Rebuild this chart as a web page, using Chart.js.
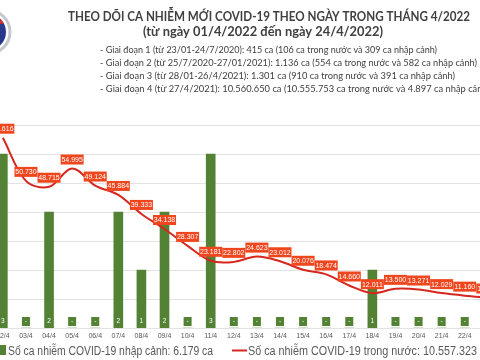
<!DOCTYPE html>
<html><head><meta charset="utf-8">
<script src="https://cdn.jsdelivr.net/npm/chart.js@4/dist/chart.umd.min.js"></script>
<style>
html,body{margin:0;padding:0;background:#fff;overflow:hidden;width:480px;height:360px}
#wrap{position:absolute;left:-20px;top:0;width:540px;height:360px}
</style></head><body>
<div id="wrap"><canvas id="c" width="540" height="360"></canvas></div>
<script>
// ---- data ----
const categories = ['02/4','03/4','04/4','05/4','06/4','07/4','08/4','09/4','10/4','11/4','12/4','13/4','14/4','15/4','16/4','17/4','18/4','19/4','20/4','21/4','22/4','23/4'];
const domesticCases = [65616,50730,48715,54995,49124,45884,39333,34138,28307,23181,22802,24623,23012,20076,18474,14660,12011,13500,13271,12029,11160,10500];
const importedCases = [3,0,2,0,0,2,1,2,0,3,0,0,0,0,0,0,1,0,0,0,0,0];
const lineAxis = {min:0, max:70000, step:10000};
const barAxis = {min:0, max:3.5, step:0.5};
const titleMain = 'THEO DÕI CA NHIỄM MỚI COVID-19 THEO NGÀY TRONG THÁNG 4/2022';
const titleSub = '(từ ngày 01/4/2022 đến ngày 24/4/2022)';
const phaseLines = [
  '- Giai đoạn 1 (từ 23/01-24/7/2020): 415 ca (106 ca trong nước và 309 ca nhập cảnh)',
  '- Giai đoạn 2 (từ 25/7/2020-27/01/2021): 1.136 ca (554 ca trong nước và 582 ca nhập cảnh)',
  '- Giai đoạn 3 (từ 28/01-26/4/2021): 1.301 ca (910 ca trong nước và 391 ca nhập cảnh)',
  '- Giai đoạn 4 (từ 27/4/2021): 10.560.650 ca (10.555.753 ca trong nước và 4.897 ca nhập cảnh)'
];
const legendImported = 'Số ca nhiễm COVID-19 nhập cảnh: 6.179 ca';
const legendDomestic = 'Số ca nhiễm COVID-19 trong nước: 10.557.323 ca';

// ---- style ----
const GREEN = '#548235';
const RED = '#d7261e';
const LABEL_BG = '#f0461e';
const TEXT = '#404040';
const OX = 20; // page -> canvas x offset

function fmt(n){ return String(n).replace(/\B(?=(\d{3})+(?!\d))/g,'.'); }
function fitText(ctx, text, x, y, width, measureText){
  const w = ctx.measureText(measureText || text).width;
  const s = width / w;
  ctx.save(); ctx.translate(x, y); ctx.scale(s, 1); ctx.fillText(text, 0, 0); ctx.restore();
  return s;
}

const deco = {
  id:'deco',
  afterDatasetsDraw(chart){
    const ctx = chart.ctx;
    const lineMeta = chart.getDatasetMeta(0), barMeta = chart.getDatasetMeta(1);
    const base = chart.scales.yBar.getPixelForValue(0);
    ctx.save();
    ctx.textAlign='center'; ctx.textBaseline='middle';
    ctx.font='6.5px "Liberation Sans"';
    barMeta.data.forEach((el,i)=>{
      ctx.fillStyle = GREEN; ctx.fillRect(el.x-4, base-11, 8, 9);
      ctx.fillStyle = '#fff';
      ctx.fillText(importedCases[i]===0?'-':String(importedCases[i]), el.x, base-6.5);
    });
    ctx.font='7px "Liberation Sans"';
    lineMeta.data.forEach((el,i)=>{
      const cx = el.x, cy = el.y-9;
      ctx.fillStyle = LABEL_BG; ctx.fillRect(cx-11.5, cy-5, 23, 10);
      ctx.fillStyle = '#fff'; ctx.fillText(fmt(domesticCases[i]), cx, cy+0.5);
    });
    ctx.restore();
  },
  afterDraw(chart){
    const ctx = chart.ctx;
    ctx.save();
    // logo (partially cut)
    ctx.beginPath(); ctx.arc(-12+OX, 32, 22, 0, Math.PI*2);
    ctx.strokeStyle='#c4c8cc'; ctx.lineWidth=3; ctx.stroke();
    ctx.beginPath(); ctx.arc(-12+OX, 32, 18, 0, Math.PI*2);
    ctx.fillStyle='#26398c'; ctx.fill();
    ctx.beginPath(); ctx.arc(-12+OX, 32, 18, -Math.PI*0.85, -Math.PI*0.15);
    ctx.closePath(); ctx.fillStyle='#d8302c'; ctx.fill();
    // titles
    ctx.fillStyle = TEXT; ctx.textAlign='left'; ctx.textBaseline='alphabetic';
    ctx.font = 'bold 13px Lato';
    fitText(ctx, titleMain, 68+OX, 21, 402);
    fitText(ctx, titleSub, 143+OX, 36, 240);
    ctx.font = '10px Lato';
    const widths = [337, 377, 355, 390];
    const ys = [53, 66, 79, 92];
    phaseLines.forEach((t,i)=>{ fitText(ctx, t, 100+OX, ys[i], widths[i]); });
    // legend
    ctx.fillStyle = GREEN; ctx.fillRect(-3+OX, 345, 9, 10);
    ctx.fillStyle = '#595959'; ctx.font = '12.5px "Liberation Sans"';
    fitText(ctx, legendImported, 8+OX, 355, 205);
    ctx.strokeStyle = RED; ctx.lineWidth = 2;
    ctx.beginPath(); ctx.moveTo(232+OX, 350.5); ctx.lineTo(247+OX, 350.5); ctx.stroke();
    fitText(ctx, legendDomestic, 248+OX, 355, 229, legendDomestic.replace(/ ca$/,''));
    ctx.restore();
  }
};

new Chart(document.getElementById('c'), {
  type:'bar',
  data:{
    labels: categories,
    datasets:[
      {type:'line', label: legendDomestic, data: domesticCases, yAxisID:'yLine',
       borderColor: RED, borderWidth: 2, pointRadius: 0, tension: 0.35, fill:false},
      {type:'bar', label: legendImported, data: importedCases, yAxisID:'yBar',
       backgroundColor: GREEN, barThickness: 9}
    ]
  },
  options:{
    responsive:false, animation:false, devicePixelRatio:1,
    layout:{padding:{left:11.3, right:20.6, top:125, bottom:0}},
    plugins:{legend:{display:false}, tooltip:{enabled:false}, title:{display:false}},
    scales:{
      x:{offset:true, grid:{display:false, drawTicks:false}, border:{display:false},
         ticks:{font:{size:7, family:'"Liberation Sans"'}, color:'#595959', padding:4, maxRotation:0, autoSkip:false},
         afterFit(s){ s.height = 32; }},
      yLine:{position:'left', min:lineAxis.min, max:lineAxis.max,
         ticks:{display:false, stepSize:lineAxis.step}, grid:{color:'#e3e3e3', drawTicks:false}, border:{display:false},
         afterFit(s){ s.width = 0; }},
      yBar:{display:false, position:'right', min:barAxis.min, max:barAxis.max, ticks:{stepSize:barAxis.step}}
    }
  },
  plugins:[deco]
});
</script>
</body></html>
